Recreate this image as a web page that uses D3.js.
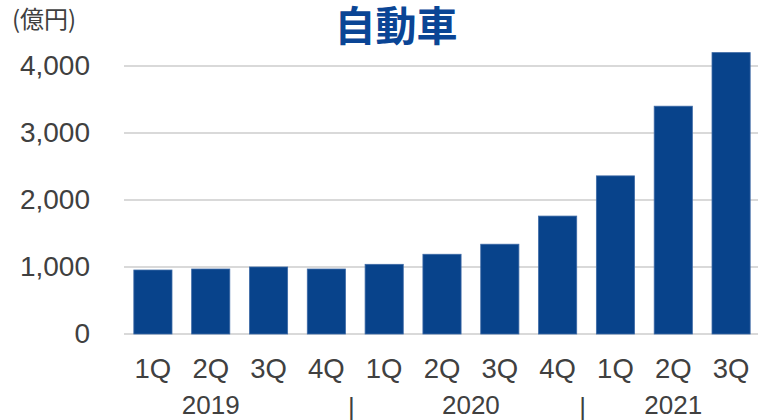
<!DOCTYPE html>
<html>
<head>
<meta charset="utf-8">
<script src="https://cdn.jsdelivr.net/npm/d3@7"></script>
<style>
  body { margin: 0; background: #fff; }
  svg { display: block; font-family: "Liberation Sans", Arial, sans-serif; }
</style>
</head>
<body>
<div id="chart"></div>
<script>
// quarterly sales, 自動車 segment (億円)
const quarters = ['1Q', '2Q', '3Q', '4Q', '1Q', '2Q', '3Q', '4Q', '1Q', '2Q', '3Q'];
const years = ['2019', '2019', '2019', '2019', '2020', '2020', '2020', '2020', '2021', '2021', '2021'];
const sales = [955, 970, 1000, 970, 1040, 1190, 1340, 1760, 2360, 3400, 4200];
const yTicks = [0, 1000, 2000, 3000, 4000];
const yearLabels = ['2019', '2020', '2021'];

const width = 758, height = 420;
const margin = { top: 66, left: 124, bottom: 86, right: 0 };

const svg = d3.select('#chart').append('svg')
    .attr('width', width)
    .attr('height', height);

const xScale = d3.scaleBand()
    .domain(d3.range(sales.length))
    .range([margin.left, 760])
    .paddingInner(0.34)
    .paddingOuter(0.17);

const yScale = d3.scaleLinear()
    .domain([0, 4000])
    .range([height - margin.bottom, margin.top]);

// gridlines
svg.append('g')
    .selectAll('line')
    .data(yTicks)
    .join('line')
    .attr('x1', margin.left)
    .attr('x2', width)
    .attr('y1', d => yScale(d))
    .attr('y2', d => yScale(d))
    .attr('stroke', '#d9d9d9')
    .attr('stroke-width', 2);

// y axis labels
svg.append('g')
    .attr('transform', `translate(90,0)`)
    .call(d3.axisLeft(yScale).tickValues(yTicks).tickSize(0).tickPadding(0).tickFormat(d3.format(',')))
    .call(g => g.select('.domain').remove())
    .selectAll('text')
    .attr('font-size', 28)
    .attr('font-family', '"Liberation Sans", Arial, sans-serif')
    .attr('fill', '#404040');

// bars
svg.append('g')
    .selectAll('rect')
    .data(sales)
    .join('rect')
    .attr('x', (d, i) => xScale(i))
    .attr('y', d => yScale(d))
    .attr('width', xScale.bandwidth())
    .attr('height', d => yScale(0) - yScale(d))
    .attr('fill', '#08438b')
    .attr('stroke', '#3d6aa6')
    .attr('stroke-width', 0.8);

// quarter labels
svg.append('g')
    .selectAll('text')
    .data(quarters)
    .join('text')
    .attr('x', (d, i) => xScale(i) + xScale.bandwidth() / 2)
    .attr('y', 378)
    .attr('text-anchor', 'middle')
    .attr('font-size', 27.5)
    .attr('fill', '#404040')
    .text(d => d);

// year labels
const center = i => xScale(i) + xScale.bandwidth() / 2;
const yearX = yearLabels.map(yr => {
    const idx = years.map((y, i) => y === yr ? i : -1).filter(i => i >= 0);
    // labels sit under the 2Q slot (between 2Q and 3Q for 2020)
    if (yr === '2020') return (center(idx[1]) + center(idx[2])) / 2;
    return center(idx[1]);
});

svg.append('g')
    .selectAll('text')
    .data(yearLabels)
    .join('text')
    .attr('x', (d, i) => yearX[i])
    .attr('y', 414)
    .attr('text-anchor', 'middle')
    .attr('font-size', 26)
    .attr('fill', '#404040')
    .text(d => d);

// separators between years
const seps = d3.range(1, years.length).filter(i => years[i] !== years[i - 1]);
svg.append('g')
    .selectAll('text')
    .data(seps)
    .join('text')
    .attr('x', i => (center(i - 1) + center(i)) / 2 - 4)
    .attr('y', 416)
    .attr('text-anchor', 'middle')
    .attr('font-size', 26)
    .attr('fill', '#404040')
    .text('|');

// unit label
svg.append('text')
    .attr('x', 12)
    .attr('y', 28)
    .attr('font-size', 24)
    .attr('font-family', '"Noto Sans CJK JP", sans-serif')
    .attr('fill', '#404040')
    .text('(億円)');

// title
svg.append('text')
    .attr('x', 396)
    .attr('y', 41)
    .attr('text-anchor', 'middle')
    .attr('font-size', 41)
    .attr('font-weight', 'bold')
    .attr('font-family', '"Noto Sans CJK JP", sans-serif')
    .attr('fill', '#0a4595')
    .text('自動車');
</script>
</body>
</html>
